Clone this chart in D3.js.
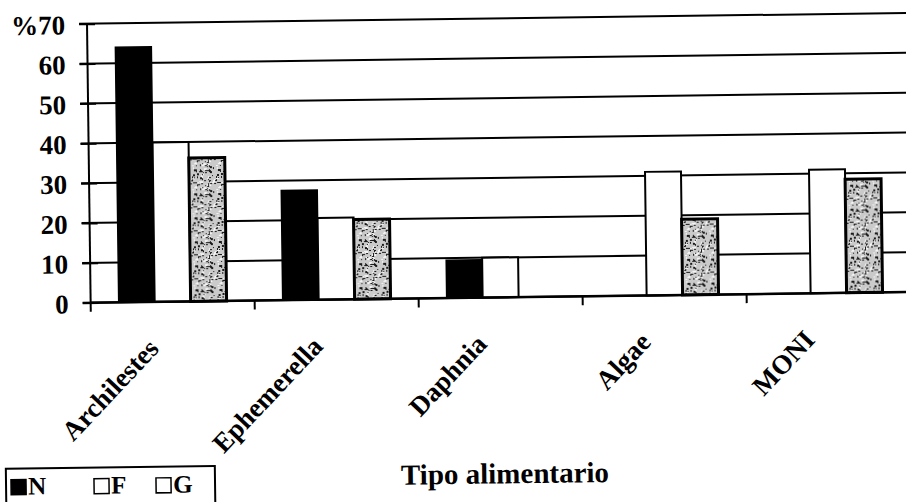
<!DOCTYPE html>
<html>
<head>
<meta charset="utf-8">
<script src="https://cdn.jsdelivr.net/npm/d3@7/dist/d3.min.js"></script>
<style>
  body { margin: 0; background: #fff; }
  svg text { font-family: "Liberation Serif", "Times New Roman", serif; font-weight: bold; fill: #000; }
</style>
</head>
<body>
<div id="chart-area"></div>
<script>
// data
let categories = ["Archilestes", "Ephemerella", "Daphnia", "Algae", "MONI"];
let series = ["N", "F", "G"];
let valuesN = [64, 27.5, 9.5, 0, 0];
let valuesF = [40, 20.5, 10, 31, 31];
let valuesG = [36, 20, 0, 19, 28.5];
let yTicks = [0, 10, 20, 30, 40, 50, 60, 70];
let xTitle = "Tipo alimentario";

let W = 906, H = 502;
let margin = {top: 19, left: 90};
let plotW = 820, plotH = 279;

let svg = d3.select("#chart-area").append("svg")
    .attr("width", W)
    .attr("height", H);

// the scan is tilted a little
let root = svg.append("g")
    .attr("transform", "rotate(-0.75, 450, 250)");

// grey stipple for G bars
let defs = svg.append("defs");
let pat = defs.append("pattern")
    .attr("id", "stipple")
    .attr("patternUnits", "userSpaceOnUse")
    .attr("width", 24).attr("height", 24);
pat.append("rect").attr("width", 24).attr("height", 24).attr("fill", "#cacaca");
let seed = 7;
function rnd() { seed = (seed * 16807) % 2147483647; return seed / 2147483647; }
for (let i = 0; i < 90; i++) {
    pat.append("rect")
        .attr("x", Math.floor(rnd() * 24))
        .attr("y", Math.floor(rnd() * 24))
        .attr("width", 1 + Math.floor(rnd() * 2))
        .attr("height", 1 + Math.floor(rnd() * 2))
        .attr("fill", rnd() < 0.6 ? "#1a1a1a" : "#f4f4f4");
}

let g = root.append("g")
    .attr("transform", "translate(" + margin.left + "," + margin.top + ")");

// Scales
let x = d3.scaleBand()
    .domain(categories)
    .range([0, plotW]);

let x1 = d3.scaleBand()
    .domain(series)
    .range([0, x.bandwidth()])
    .paddingOuter(0.78);

let y = d3.scaleLinear()
    .domain([0, 70])
    .range([plotH, 0]);

// gridlines (behind the bars)
g.append("g")
    .selectAll("line")
    .data(yTicks)
    .enter().append("line")
    .attr("x1", -8)
    .attr("x2", plotW)
    .attr("y1", d => y(d))
    .attr("y2", d => y(d))
    .attr("stroke", "#000")
    .attr("stroke-width", 2);

// bars
let rows = categories.map((c, i) => ({
    cat: c,
    vals: [
        {s: "N", v: valuesN[i]},
        {s: "F", v: valuesF[i]},
        {s: "G", v: valuesG[i]}
    ]
}));

let fills = {N: "#000", F: "#fff", G: "url(#stipple)"};
let strokeW = {N: 1.5, F: 2, G: 3};

let groups = g.selectAll(".grp")
    .data(rows)
    .enter().append("g")
    .attr("class", "grp")
    .attr("transform", d => "translate(" + x(d.cat) + ",0)");

groups.selectAll("rect")
    .data(d => d.vals.filter(e => e.v > 0))
    .enter().append("rect")
    .attr("x", d => x1(d.s))
    .attr("y", d => y(d.v))
    .attr("width", x1.bandwidth())
    .attr("height", d => plotH - y(d.v))
    .attr("fill", d => fills[d.s])
    .attr("stroke", "#000")
    .attr("stroke-width", d => strokeW[d.s]);

// y axis
let yAxis = d3.axisLeft(y)
    .tickValues(yTicks)
    .tickSize(8)
    .tickPadding(14)
    .tickFormat(d => d === 70 ? "%70" : d);

let yg = g.append("g")
    .attr("class", "y-axis")
    .call(yAxis)
    .attr("font-family", "Liberation Serif");
yg.select(".domain").remove();
yg.selectAll(".tick line").attr("stroke", "#000").attr("stroke-width", 2).attr("x2", 8).attr("x1", -8);
yg.selectAll(".tick text")
    .style("font-size", "27px")
    .attr("dy", "0.36em");

g.append("line")
    .attr("x1", 0).attr("x2", 0)
    .attr("y1", 0).attr("y2", plotH)
    .attr("stroke", "#000").attr("stroke-width", 2);

// x axis baseline + ticks at band edges
g.append("line")
    .attr("x1", 0).attr("x2", plotW)
    .attr("y1", plotH).attr("y2", plotH)
    .attr("stroke", "#000").attr("stroke-width", 2.5);

g.append("g")
    .selectAll("line")
    .data(categories)
    .enter().append("line")
    .attr("x1", d => x(d)).attr("x2", d => x(d))
    .attr("y1", plotH).attr("y2", plotH + 9)
    .attr("stroke", "#000").attr("stroke-width", 2);

// category labels
g.append("g")
    .selectAll("text")
    .data(categories)
    .enter().append("text")
    .attr("text-anchor", "end")
    .style("font-size", "27px")
    .attr("transform", d => "translate(" + (x(d) + x.bandwidth() / 2 - 13) + "," + (plotH + 48) + ")rotate(-46)")
    .text(d => d);

// axis title
root.append("text")
    .attr("x", 502)
    .attr("y", 484)
    .attr("text-anchor", "middle")
    .style("font-size", "29px")
    .text(xTitle);

// legend
let leg = root.append("g")
    .attr("transform", "translate(3,463)");
leg.append("rect")
    .attr("width", 209).attr("height", 42)
    .attr("fill", "#fff").attr("stroke", "#000").attr("stroke-width", 2);

let legX = [5, 88, 150];
let items = leg.selectAll(".item")
    .data(series)
    .enter().append("g")
    .attr("class", "item")
    .attr("transform", (d, i) => "translate(" + legX[i] + ",0)");
items.append("rect")
    .attr("x", 0).attr("y", 11)
    .attr("width", 15).attr("height", 15)
    .attr("fill", d => d === "G" ? "#fff" : fills[d])
    .attr("stroke", "#000").attr("stroke-width", 1.5);
items.append("text")
    .attr("x", 17).attr("y", 26)
    .style("font-size", "25px")
    .text(d => d);
</script>
</body>
</html>
